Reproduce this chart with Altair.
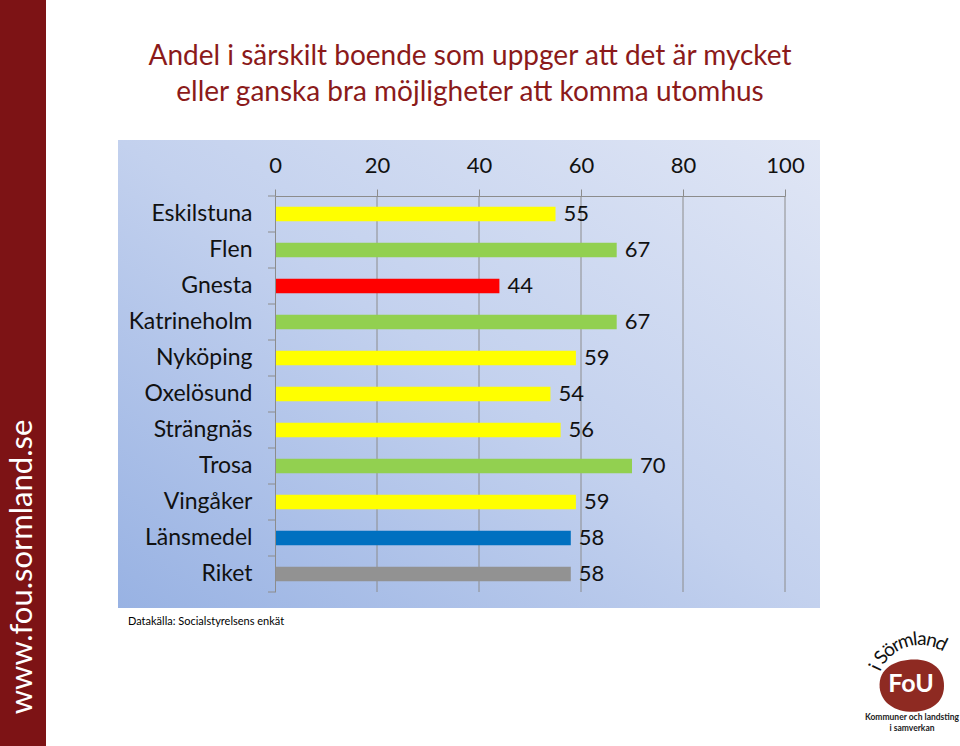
import math
import altair as alt
import pandas as pd

# ---- data ----
categories = ["Eskilstuna", "Flen", "Gnesta", "Katrineholm", "Nyköping", "Oxelösund",
              "Strängnäs", "Trosa", "Vingåker", "Länsmedel", "Riket"]
values = [55, 67, 44, 67, 59, 54, 56, 70, 59, 58, 58]
bar_colors = ["#FFFF00", "#92D050", "#FF0000", "#92D050", "#FFFF00", "#FFFF00",
              "#FFFF00", "#92D050", "#FFFF00", "#0070C0", "#929292"]
x_ticks = [0, 20, 40, 60, 80, 100]
title_lines = ["Andel i särskilt boende som uppger att det är mycket",
               "eller ganska bra möjligheter att komma utomhus"]
source_text = "Datakälla: Socialstyrelsens enkät"
side_text = "www.fou.sormland.se"
logo_arc = "i Sörmland"

df = pd.DataFrame({"kommun": categories, "andel": values, "farg": bar_colors})
grid_df = pd.DataFrame({"t": x_ticks[1:]})

FONT = "Lato"
TITLE_COLOR = "#8B1A1A"
GRID = "#8c8c8c"
W, H = 510, 396
PAD_L, PAD_T = 275, 196


def one():
    return alt.Data(values=[{"k": 0}])


# sidebar
sidebar = alt.Chart(one()).mark_rect(color="#7D1315").encode(
    x=alt.value(-PAD_L), x2=alt.value(46 - PAD_L),
    y=alt.value(-PAD_T), y2=alt.value(746 - PAD_T))
sidebar_txt = alt.Chart(one()).mark_text(
    text=side_text, angle=270, font=FONT, fontSize=31, color="white",
    align="center", baseline="middle").encode(
    x=alt.value(23 - PAD_L), y=alt.value(567 - PAD_T))

# panel background with gradient
panel = alt.Chart(one()).mark_rect(
    color=alt.Gradient(gradient="linear", x1=0, y1=1, x2=1, y2=0,
                       stops=[alt.GradientStop(color="#98b2e3", offset=0),
                              alt.GradientStop(color="#c3d1ee", offset=0.5),
                              alt.GradientStop(color="#e0e6f5", offset=1)])).encode(
    x=alt.value(118 - PAD_L), x2=alt.value(820 - PAD_L),
    y=alt.value(140 - PAD_T), y2=alt.value(608 - PAD_T))

# titles
title1 = alt.Chart(one()).mark_text(
    text=title_lines[0], font=FONT, fontSize=28, color=TITLE_COLOR,
    align="center", baseline="alphabetic").encode(
    x=alt.value(470 - PAD_L), y=alt.value(65 - PAD_T))
title2 = alt.Chart(one()).mark_text(
    text=title_lines[1], font=FONT, fontSize=28, color=TITLE_COLOR,
    align="center", baseline="alphabetic").encode(
    x=alt.value(470 - PAD_L), y=alt.value(101 - PAD_T))

source = alt.Chart(one()).mark_text(
    text=source_text, font=FONT, fontSize=11, color="black",
    align="left", baseline="middle").encode(
    x=alt.value(128 - PAD_L), y=alt.value(622 - PAD_T))

# main chart
yenc = alt.Y("kommun:N", sort=categories,
             scale=alt.Scale(paddingInner=0.6, paddingOuter=0.3),
             axis=alt.Axis(title=None, ticks=False, tickSize=0, labelPadding=23,
                           labelFont=FONT, labelFontSize=23, labelFontWeight="normal",
                           labelColor="#111111", domainColor=GRID, labelLimit=300, zindex=1))
xenc = alt.X("andel:Q", scale=alt.Scale(domain=[0, 100], nice=False),
             axis=alt.Axis(orient="top", values=x_ticks, title=None, grid=False,
                           domainColor=GRID, tickColor=GRID, labelFlush=False,
                           tickSize=7, labelPadding=12, labelFont=FONT,
                           labelFontSize=22, labelFontWeight="normal",
                           labelColor="#111111", zindex=1))

gridlines = alt.Chart(grid_df).mark_rule(color=GRID, strokeWidth=1).encode(
    x=alt.X("t:Q"), y=alt.value(0), y2=alt.value(H))
bars = alt.Chart(df).mark_bar().encode(
    x=xenc, y=yenc, color=alt.Color("farg:N", scale=None))
labels = alt.Chart(df).mark_text(
    align="left", baseline="middle", dx=8, font=FONT, fontSize=22, color="#111111").encode(
    x="andel:Q", y=alt.Y("kommun:N", sort=categories), text="andel:Q")
yticks = alt.Chart(df).mark_rule(color=GRID, yOffset=-18).encode(
    y=alt.Y("kommun:N", sort=categories), x=alt.value(-7), x2=alt.value(0))
ytick_last = alt.Chart(one()).mark_rule(color=GRID).encode(
    y=alt.value(H), x=alt.value(-7), x2=alt.value(0))

# logo
LCX, LCY = 911 - PAD_L, 686 - PAD_T
blob_path = ("M -0.95 0.05 C -1 -0.55 -0.45 -0.8 0.1 -0.8 C 0.65 -0.8 1 -0.5 1 0 "
             "C 1 0.5 0.6 0.78 0.05 0.78 C -0.5 0.78 -0.9 0.5 -0.95 0.05 Z")
blob = alt.Chart(one()).mark_point(
    shape=blob_path, filled=True, color="#8E2A22", opacity=1, size=66 * 66).encode(
    x=alt.value(LCX), y=alt.value(LCY))
fou = alt.Chart(one()).mark_text(
    text="FoU", font=FONT, fontSize=25, fontWeight="bold", color="white",
    align="center", baseline="middle").encode(
    x=alt.value(LCX), y=alt.value(LCY - 2))
k1 = alt.Chart(one()).mark_text(
    text="Kommuner och landsting", font=FONT, fontSize=8.5, fontWeight="bold",
    color="#222222", align="center", baseline="middle").encode(
    x=alt.value(912 - PAD_L), y=alt.value(717 - PAD_T))
k2 = alt.Chart(one()).mark_text(
    text="i samverkan", font=FONT, fontSize=8.5, fontWeight="bold",
    color="#222222", align="center", baseline="middle").encode(
    x=alt.value(912 - PAD_L), y=alt.value(728 - PAD_T))

arc_layers = []
acx, acy, ar = 920 - PAD_L, 688 - PAD_T, 49
char_w = {"i": 5, " ": 4, "S": 10, "ö": 10.5, "r": 6.5, "m": 15, "l": 4.5, "a": 9.5, "n": 10, "d": 10.5}
start_deg = -68.0
pos = 0.0
for ch in logo_arc:
    w = char_w[ch]
    mid = pos + w / 2
    pos += w
    if ch == " ":
        continue
    th = start_deg + math.degrees(mid / ar)
    px = acx + ar * math.sin(math.radians(th))
    py = acy - ar * math.cos(math.radians(th))
    arc_layers.append(alt.Chart(one()).mark_text(
        text=ch, font=FONT, fontSize=19, color="#111111", angle=th % 360,
        align="center", baseline="middle").encode(
        x=alt.value(px), y=alt.value(py)))

chart = alt.layer(
    sidebar, sidebar_txt, panel, title1, title2, source,
    gridlines, bars, labels, yticks, ytick_last,
    blob, fou, k1, k2, *arc_layers
).properties(
    width=W, height=H,
    padding={"left": PAD_L, "top": PAD_T, "right": 960 - PAD_L - W, "bottom": 746 - PAD_T - H},
    autosize=alt.AutoSizeParams(type="none"),
    background="white",
).configure_view(stroke=None)

chart.save("out.html", embed_options={"renderer": "svg", "actions": False})
